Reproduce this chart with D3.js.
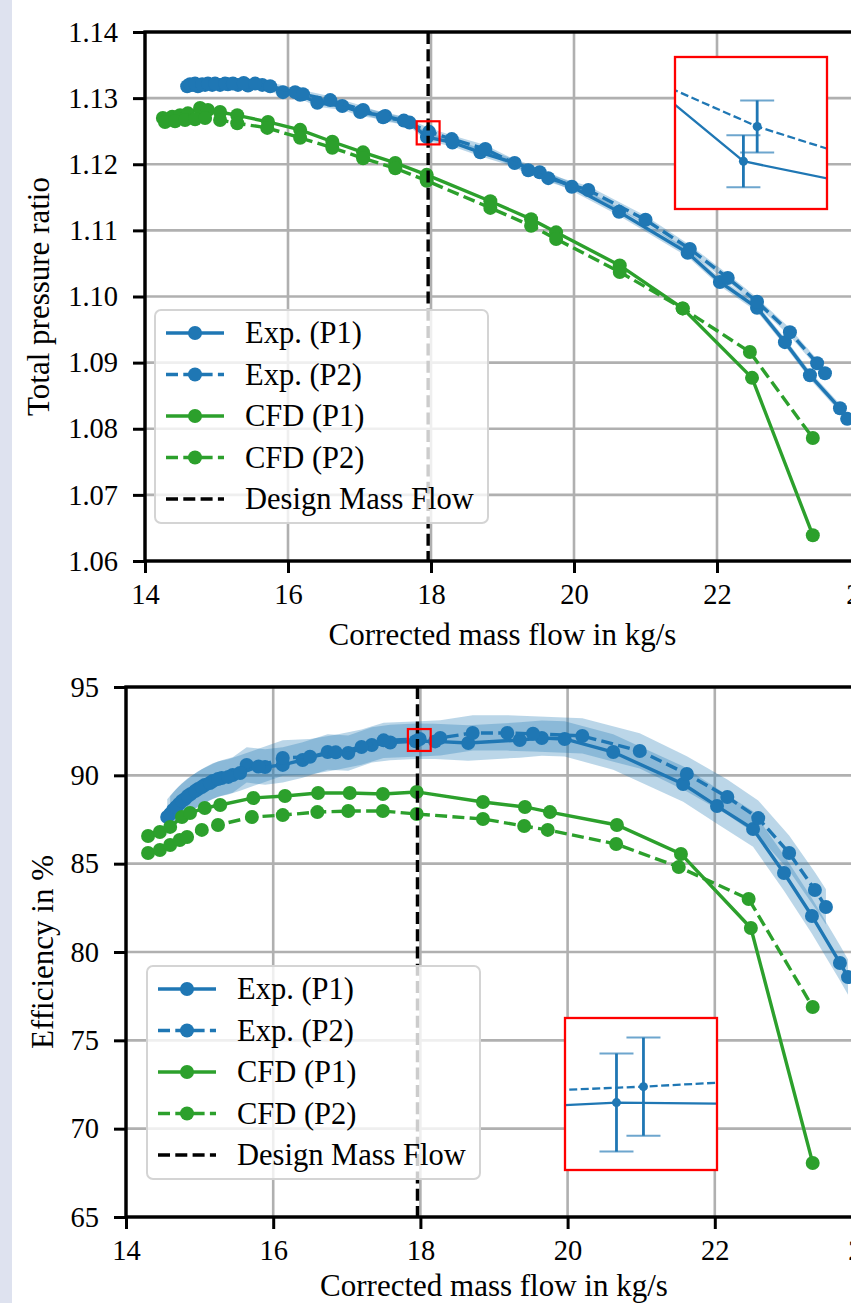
<!DOCTYPE html>
<html>
<head>
<meta charset="utf-8">
<script src="https://cdn.jsdelivr.net/npm/d3@7"></script>
<style>
  body { margin: 0; background: #fff; }
  svg text { font-family: "Liberation Serif", "DejaVu Serif", serif; fill: #000; }
</style>
</head>
<body>
<svg id="fig" width="851" height="1303"></svg>
<script>
// ---- data ----
var xTicks = [14, 16, 18, 20, 22, 24];
var prTicks = [1.06, 1.07, 1.08, 1.09, 1.10, 1.11, 1.12, 1.13, 1.14];
var effTicks = [65, 70, 75, 80, 85, 90, 95];
var designFlow = 17.96;
var labels = ["Exp. (P1)", "Exp. (P2)", "CFD (P1)", "CFD (P2)", "Design Mass Flow"];

// total pressure ratio
var prExpP1x = [14.59, 14.66, 14.74, 14.84, 14.94, 15.05, 15.16, 15.30, 15.44, 15.64, 15.93, 16.17, 16.41, 16.76, 17.01, 17.36, 17.70, 17.944, 18.30, 18.69, 19.17, 19.52, 19.97, 20.63, 21.59, 22.04, 22.56, 22.95, 23.30, 23.72, 23.82];
var prExpP1y = [1.1318, 1.1320, 1.1318, 1.1320, 1.1320, 1.1320, 1.1321, 1.1320, 1.1319, 1.1320, 1.1309, 1.1305, 1.1293, 1.1288, 1.1279, 1.1273, 1.1263, 1.1241, 1.1233, 1.1218, 1.1202, 1.1188, 1.1166, 1.1128, 1.1066, 1.1022, 1.0983, 1.0931, 1.0881, 1.0831, 1.0815];
var prExpP2x = [14.63, 14.70, 14.80, 14.88, 14.98, 15.12, 15.23, 15.38, 15.54, 15.75, 16.10, 16.21, 16.59, 17.05, 17.33, 17.62, 17.973, 18.29, 18.76, 19.36, 19.64, 20.20, 21.00, 21.62, 22.15, 22.56, 23.02, 23.40, 23.51];
var prExpP2y = [1.1321, 1.1322, 1.1321, 1.1322, 1.1322, 1.1322, 1.1322, 1.1323, 1.1322, 1.1318, 1.1309, 1.1306, 1.1297, 1.1282, 1.1271, 1.1266, 1.1249, 1.1238, 1.1223, 1.1191, 1.1179, 1.1161, 1.1116, 1.1072, 1.1028, 1.0992, 1.0946, 1.0899, 1.0884];
var prCfdP1x = [14.25, 14.38, 14.49, 14.60, 14.77, 14.88, 15.05, 15.29, 15.72, 16.17, 16.62, 17.05, 17.50, 17.94, 18.83, 19.40, 19.75, 20.64, 21.52, 22.49, 23.34];
var prCfdP1y = [1.1270, 1.1272, 1.1274, 1.1277, 1.1285, 1.1282, 1.1279, 1.1274, 1.1264, 1.1252, 1.1234, 1.1218, 1.1202, 1.1184, 1.1144, 1.1117, 1.1097, 1.1047, 1.0982, 1.0877, 1.0639];
var prCfdP2x = [14.28, 14.42, 14.56, 14.70, 14.84, 15.05, 15.29, 15.71, 16.17, 16.62, 17.05, 17.50, 17.94, 18.83, 19.40, 19.75, 20.64, 21.52, 22.46, 23.34];
var prCfdP2y = [1.1264, 1.1265, 1.1267, 1.1268, 1.1270, 1.1267, 1.1262, 1.1255, 1.1240, 1.1225, 1.1209, 1.1194, 1.1175, 1.1134, 1.1107, 1.1087, 1.1037, 1.0982, 1.0916, 1.0786];
var prBand = 0.0006;   // shaded uncertainty
var prErr = 0.0006;    // error bars in the zoom
var prZoomX = [17.80, 18.12];
var prZoomY = [1.1230, 1.1265];

// efficiency
var effExpP1x = [14.56, 14.64, 14.72, 14.80, 14.88, 14.98, 15.07, 15.18, 15.30, 15.45, 15.64, 15.89, 16.13, 16.40, 16.74, 17.02, 17.34, 17.59, 17.935, 18.20, 18.65, 19.35, 19.65, 19.96, 20.62, 21.57, 22.03, 22.52, 22.94, 23.32, 23.70, 23.81];
var effExpP1y = [87.64, 88.04, 88.38, 88.66, 88.94, 89.23, 89.45, 89.68, 89.85, 90.02, 90.59, 90.47, 90.59, 90.87, 91.32, 91.26, 91.72, 91.86, 91.93, 91.92, 91.83, 92.00, 92.11, 92.06, 91.32, 89.51, 88.26, 86.96, 84.47, 82.04, 79.38, 78.58];
var effExpP2x = [14.60, 14.68, 14.76, 14.84, 14.94, 15.03, 15.14, 15.25, 15.39, 15.55, 15.80, 16.13, 16.50, 16.85, 17.20, 17.50, 17.99, 18.27, 18.71, 19.18, 19.53, 20.20, 20.98, 21.62, 22.17, 22.59, 23.01, 23.36, 23.51];
var effExpP2y = [87.81, 88.21, 88.55, 88.83, 89.11, 89.34, 89.57, 89.79, 89.91, 90.13, 90.50, 90.98, 91.05, 91.30, 91.60, 91.98, 92.06, 92.12, 92.40, 92.40, 92.35, 92.23, 91.38, 90.08, 88.77, 87.58, 85.60, 83.51, 82.55];
var effCfdP1x = [14.30, 14.46, 14.60, 14.76, 14.87, 15.07, 15.28, 15.73, 16.16, 16.61, 17.04, 17.49, 17.95, 18.85, 19.42, 19.76, 20.67, 21.54, 22.49, 23.33];
var effCfdP1y = [86.57, 86.79, 87.08, 87.64, 87.87, 88.15, 88.32, 88.72, 88.83, 89.00, 89.00, 88.94, 89.06, 88.49, 88.21, 87.92, 87.19, 85.55, 81.36, 68.06];
var effCfdP2x = [14.30, 14.46, 14.60, 14.73, 14.83, 15.03, 15.25, 15.71, 16.13, 16.60, 17.02, 17.49, 17.95, 18.85, 19.41, 19.73, 20.66, 21.51, 22.46, 23.33];
var effCfdP2y = [85.60, 85.77, 86.06, 86.34, 86.51, 86.91, 87.19, 87.64, 87.75, 87.92, 87.98, 87.98, 87.81, 87.53, 87.13, 86.91, 86.11, 84.81, 83.00, 76.89];
var effBand = 1.0;
var effErr = 0.4;
var effZoomX = [17.83, 18.14];
var effZoomY = [91.38, 92.62];

var blue = "#1f77b4", green = "#2ca02c";
var dash = "12,5.3";

var svg = d3.select("#fig");

// light strip on the left edge
svg.append("rect").attr("x", 0).attr("y", 0).attr("width", 12).attr("height", 1303).attr("fill", "#dee2ef");

function zipXY(xs, ys) {
  return xs.map(function(v, i) { return { x: v, y: ys[i] }; });
}

function drawPanel(p) {
  var g = svg.append("g").attr("transform", `translate(${p.left}, ${p.top})`);

  var x = d3.scaleLinear().domain([14, 24]).range([0, p.width]);
  var y = d3.scaleLinear().domain(p.yDomain).range([p.height, 0]);

  g.append("clipPath").attr("id", p.id + "-clip")
    .append("rect").attr("width", p.width).attr("height", p.height);

  // grid
  g.selectAll(".vgrid").data(xTicks).enter().append("line")
    .attr("x1", d => x(d)).attr("x2", d => x(d))
    .attr("y1", 0).attr("y2", p.height)
    .attr("stroke", "#b0b0b0").attr("stroke-width", 2.6);
  g.selectAll(".hgrid").data(p.yTicks).enter().append("line")
    .attr("x1", 0).attr("x2", p.width)
    .attr("y1", d => y(d)).attr("y2", d => y(d))
    .attr("stroke", "#b0b0b0").attr("stroke-width", 2.6);

  var plot = g.append("g").attr("clip-path", `url(#${p.id}-clip)`);

  // shaded uncertainty of the measurements
  p.series.filter(s => s.band).forEach(function(s) {
    var area = d3.area()
      .x(d => x(d.x))
      .y0(d => y(d.y - s.band))
      .y1(d => y(d.y + s.band));
    plot.append("path").datum(s.data)
      .attr("d", area)
      .attr("fill", s.color)
      .attr("opacity", 0.3);
  });

  var line = d3.line().x(d => x(d.x)).y(d => y(d.y));
  p.series.forEach(function(s) {
    plot.append("path").datum(s.data)
      .attr("d", line)
      .attr("fill", "none")
      .attr("stroke", s.color)
      .attr("stroke-width", 3.4)
      .attr("stroke-dasharray", s.dashed ? dash : null);
    plot.selectAll(null).data(s.data).enter().append("circle")
      .attr("cx", d => x(d.x)).attr("cy", d => y(d.y))
      .attr("r", 7)
      .attr("fill", s.color);
  });

  // design mass flow
  plot.append("line")
    .attr("x1", x(designFlow)).attr("x2", x(designFlow))
    .attr("y1", 0).attr("y2", p.height)
    .attr("stroke", "#000").attr("stroke-width", 3.4)
    .attr("stroke-dasharray", dash);

  // zoom indicator
  g.append("rect")
    .attr("x", x(p.zoomX[0])).attr("y", y(p.zoomY[1]))
    .attr("width", x(p.zoomX[1]) - x(p.zoomX[0]))
    .attr("height", y(p.zoomY[0]) - y(p.zoomY[1]))
    .attr("fill", "none").attr("stroke", "#ff0000").attr("stroke-width", 2.2);

  // axes
  var xAxis = g.append("g")
    .attr("transform", `translate(0, ${p.height})`)
    .call(d3.axisBottom(x).tickValues(xTicks).tickSize(12).tickPadding(11).tickSizeOuter(0));
  var yAxis = g.append("g")
    .call(d3.axisLeft(y).tickValues(p.yTicks).tickFormat(p.fmt).tickSize(12).tickPadding(15).tickSizeOuter(0));
  [xAxis, yAxis].forEach(function(a) {
    a.select(".domain").remove();
    a.attr("font-family", null).attr("font-size", null);
    a.selectAll("line").attr("stroke", "#000").attr("stroke-width", 3);
    a.selectAll("text").attr("font-size", "28.5px").attr("fill", "#000");
  });

  // spines
  g.append("rect").attr("width", p.width).attr("height", p.height)
    .attr("fill", "none").attr("stroke", "#000").attr("stroke-width", 3.4);

  // axis titles
  g.append("text")
    .attr("x", p.width / 2).attr("y", p.xLabelY)
    .attr("text-anchor", "middle").attr("font-size", "31px")
    .text("Corrected mass flow in kg/s");
  g.append("text")
    .attr("transform", `translate(${p.yLabelX}, ${p.height / 2}) rotate(-90)`)
    .attr("text-anchor", "middle").attr("font-size", "31px")
    .text(p.yLabel);

  // legend
  var lg = g.append("g").attr("transform", `translate(${p.legend.x}, ${p.legend.y})`);
  lg.append("rect")
    .attr("width", p.legend.w).attr("height", p.legend.h)
    .attr("rx", 6).attr("ry", 6)
    .attr("fill", "#fff").attr("fill-opacity", 0.8)
    .attr("stroke", "#d4d4d4").attr("stroke-width", 2);
  var entries = p.series.map(s => ({ label: s.label, color: s.color, dashed: s.dashed, marker: true }))
    .concat([{ label: labels[4], color: "#000", dashed: true, marker: false }]);
  entries.forEach(function(e, i) {
    var cy = 23 + i * 41.5;
    lg.append("line")
      .attr("x1", 11).attr("x2", 69).attr("y1", cy).attr("y2", cy)
      .attr("stroke", e.color).attr("stroke-width", 3.4)
      .attr("stroke-dasharray", e.dashed ? dash : null);
    if (e.marker) {
      lg.append("circle").attr("cx", 40).attr("cy", cy).attr("r", 7).attr("fill", e.color);
    }
    lg.append("text")
      .attr("x", 90).attr("y", cy + 10)
      .attr("font-size", "30.5px")
      .text(e.label);
  });

  // zoomed inset
  var ig = svg.append("g").attr("transform", `translate(${p.inset.x}, ${p.inset.y})`);
  var s = p.inset.size;
  var ix = d3.scaleLinear().domain(p.zoomX).range([0, s]);
  var iy = d3.scaleLinear().domain(p.zoomY).range([s, 0]);
  ig.append("clipPath").attr("id", p.id + "-iclip")
    .append("rect").attr("width", s).attr("height", s);
  ig.append("rect").attr("width", s).attr("height", s).attr("fill", "#fff");
  var ip = ig.append("g").attr("clip-path", `url(#${p.id}-iclip)`);
  var iline = d3.line().x(d => ix(d.x)).y(d => iy(d.y));
  p.series.filter(s => s.band).forEach(function(se) {
    ip.append("path").datum(se.data)
      .attr("d", iline)
      .attr("fill", "none").attr("stroke", se.color).attr("stroke-width", 2.3)
      .attr("stroke-dasharray", se.dashed ? "8,3.5" : null);
    var inside = se.data.filter(d => d.x >= p.zoomX[0] && d.x <= p.zoomX[1]);
    inside.forEach(function(d) {
      ip.append("line")
        .attr("x1", ix(d.x)).attr("x2", ix(d.x))
        .attr("y1", iy(d.y - p.err)).attr("y2", iy(d.y + p.err))
        .attr("stroke", se.color).attr("stroke-width", 2.8);
      [d.y - p.err, d.y + p.err].forEach(function(v) {
        ip.append("line")
          .attr("x1", ix(d.x) - 17).attr("x2", ix(d.x) + 17)
          .attr("y1", iy(v)).attr("y2", iy(v))
          .attr("stroke", se.color).attr("stroke-width", 2).attr("stroke-opacity", 0.65);
      });
      ip.append("circle").attr("cx", ix(d.x)).attr("cy", iy(d.y)).attr("r", 4.5).attr("fill", se.color);
    });
  });
  ig.append("rect").attr("width", s).attr("height", s)
    .attr("fill", "none").attr("stroke", "#ff0000").attr("stroke-width", 2.3);
}

drawPanel({
  id: "pr",
  left: 145, top: 32, width: 715, height: 529,
  yDomain: [1.06, 1.14], yTicks: prTicks, fmt: d3.format(".2f"),
  yLabel: "Total pressure ratio", yLabelX: -96, xLabelY: 84 + 529,
  zoomX: prZoomX, zoomY: prZoomY, err: prErr,
  legend: { x: 10, y: 278, w: 333, h: 213 },
  inset: { x: 675, y: 57, size: 152 },
  series: [
    { label: labels[0], color: blue, dashed: false, band: prBand, data: zipXY(prExpP1x, prExpP1y) },
    { label: labels[1], color: blue, dashed: true, band: prBand, data: zipXY(prExpP2x, prExpP2y) },
    { label: labels[2], color: green, dashed: false, data: zipXY(prCfdP1x, prCfdP1y) },
    { label: labels[3], color: green, dashed: true, data: zipXY(prCfdP2x, prCfdP2y) }
  ]
});

drawPanel({
  id: "eff",
  left: 126, top: 687, width: 736, height: 530,
  yDomain: [65, 95], yTicks: effTicks, fmt: d3.format("d"),
  yLabel: "Efficiency in %", yLabelX: -73, xLabelY: 79 + 530,
  zoomX: effZoomX, zoomY: effZoomY, err: effErr,
  legend: { x: 21, y: 279, w: 333, h: 213 },
  inset: { x: 565, y: 1018, size: 152 },
  series: [
    { label: labels[0], color: blue, dashed: false, band: effBand, data: zipXY(effExpP1x, effExpP1y) },
    { label: labels[1], color: blue, dashed: true, band: effBand, data: zipXY(effExpP2x, effExpP2y) },
    { label: labels[2], color: green, dashed: false, data: zipXY(effCfdP1x, effCfdP1y) },
    { label: labels[3], color: green, dashed: true, data: zipXY(effCfdP2x, effCfdP2y) }
  ]
});
</script>
</body>
</html>
